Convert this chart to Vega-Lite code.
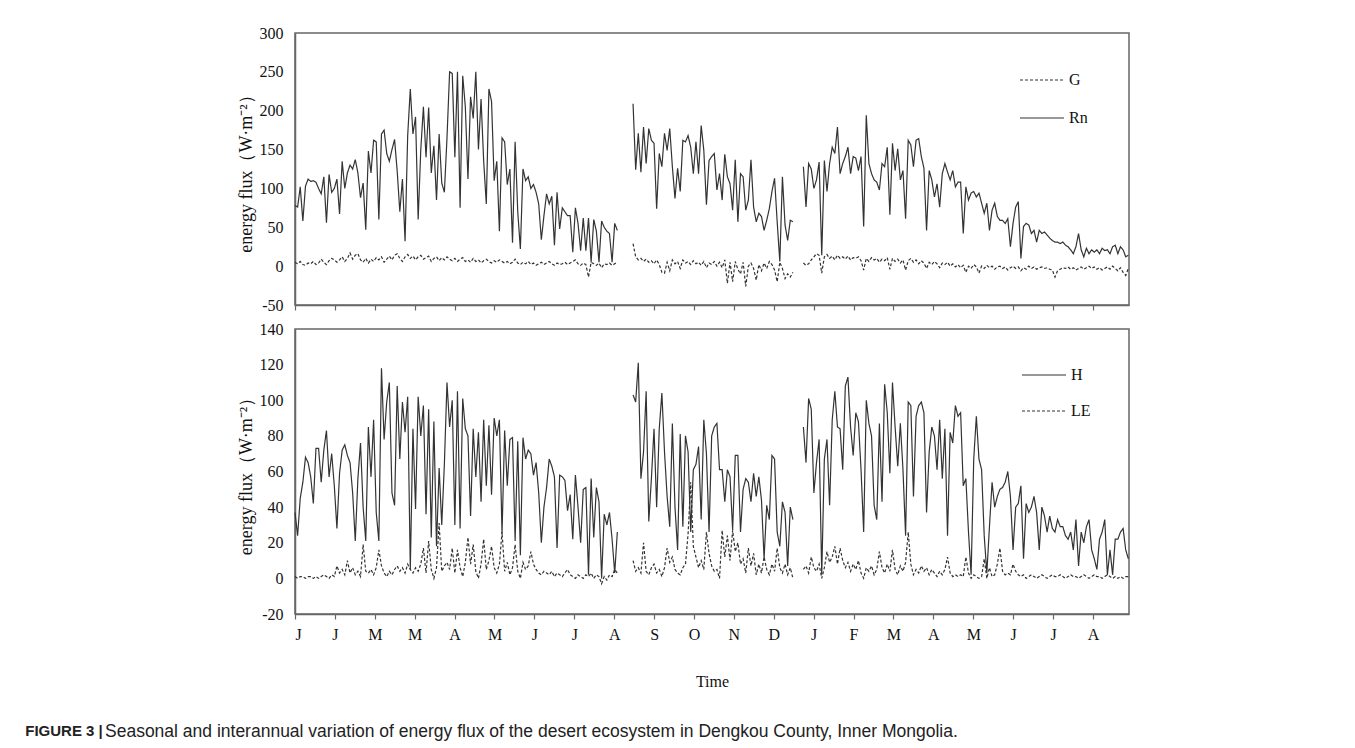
{
"$schema": "https://vega.github.io/schema/vega-lite/v6.json",
"background": "white",
"padding": {"left": 25, "top": 24, "right": 20, "bottom": 10},
"data": {"values": [
{"d":0,"Rn":78,"G":5,"H":37,"LE":1},{"d":2,"Rn":76,"G":3,"H":24,"LE":0},{"d":4,"Rn":102,"G":6,"H":45,"LE":1},{"d":6,"Rn":58,"G":2,"H":54,"LE":1},{"d":8,"Rn":103,"G":1,"H":68,"LE":0},{"d":10,"Rn":112,"G":4,"H":65,"LE":1},{"d":12,"Rn":109,"G":3,"H":57,"LE":1},{"d":14,"Rn":110,"G":6,"H":42,"LE":0},{"d":16,"Rn":108,"G":2,"H":73,"LE":1},{"d":18,"Rn":100,"G":4,"H":73,"LE":0},{"d":20,"Rn":93,"G":9,"H":54,"LE":1},{"d":22,"Rn":115,"G":5,"H":72,"LE":2},{"d":24,"Rn":56,"G":2,"H":83,"LE":1},{"d":26,"Rn":118,"G":7,"H":57,"LE":0},{"d":28,"Rn":95,"G":10,"H":70,"LE":2},{"d":30,"Rn":100,"G":8,"H":52,"LE":1},{"d":32,"Rn":112,"G":5,"H":28,"LE":7},{"d":34,"Rn":67,"G":8,"H":59,"LE":3},{"d":36,"Rn":135,"G":12,"H":72,"LE":5},{"d":38,"Rn":100,"G":6,"H":75,"LE":2},{"d":40,"Rn":120,"G":10,"H":69,"LE":10},{"d":42,"Rn":130,"G":17,"H":65,"LE":3},{"d":44,"Rn":125,"G":9,"H":48,"LE":6},{"d":46,"Rn":137,"G":14,"H":21,"LE":2},{"d":48,"Rn":120,"G":16,"H":56,"LE":4},{"d":50,"Rn":88,"G":8,"H":76,"LE":1},{"d":52,"Rn":107,"G":5,"H":40,"LE":19},{"d":54,"Rn":47,"G":10,"H":21,"LE":4},{"d":56,"Rn":148,"G":4,"H":85,"LE":3},{"d":58,"Rn":120,"G":9,"H":57,"LE":5},{"d":60,"Rn":162,"G":6,"H":89,"LE":2},{"d":62,"Rn":160,"G":11,"H":37,"LE":6},{"d":64,"Rn":60,"G":8,"H":21,"LE":16},{"d":66,"Rn":170,"G":12,"H":118,"LE":7},{"d":68,"Rn":175,"G":5,"H":78,"LE":3},{"d":70,"Rn":145,"G":9,"H":99,"LE":1},{"d":72,"Rn":135,"G":13,"H":110,"LE":4},{"d":74,"Rn":150,"G":8,"H":48,"LE":2},{"d":76,"Rn":163,"G":14,"H":41,"LE":5},{"d":78,"Rn":122,"G":16,"H":108,"LE":7},{"d":80,"Rn":70,"G":10,"H":67,"LE":4},{"d":82,"Rn":112,"G":6,"H":99,"LE":6},{"d":84,"Rn":32,"G":12,"H":82,"LE":3},{"d":86,"Rn":168,"G":15,"H":102,"LE":8},{"d":88,"Rn":228,"G":10,"H":5,"LE":5},{"d":90,"Rn":170,"G":13,"H":84,"LE":3},{"d":92,"Rn":192,"G":8,"H":39,"LE":6},{"d":94,"Rn":60,"G":12,"H":102,"LE":4},{"d":96,"Rn":150,"G":14,"H":80,"LE":8},{"d":98,"Rn":205,"G":9,"H":97,"LE":17},{"d":100,"Rn":140,"G":11,"H":36,"LE":3},{"d":102,"Rn":204,"G":13,"H":95,"LE":21},{"d":104,"Rn":120,"G":6,"H":23,"LE":5},{"d":106,"Rn":155,"G":10,"H":88,"LE":0},{"d":108,"Rn":85,"G":12,"H":18,"LE":6},{"d":110,"Rn":170,"G":7,"H":62,"LE":31},{"d":112,"Rn":107,"G":11,"H":30,"LE":4},{"d":114,"Rn":95,"G":8,"H":64,"LE":7},{"d":116,"Rn":165,"G":12,"H":110,"LE":9},{"d":118,"Rn":250,"G":9,"H":85,"LE":5},{"d":120,"Rn":248,"G":7,"H":100,"LE":17},{"d":122,"Rn":140,"G":10,"H":30,"LE":3},{"d":124,"Rn":250,"G":6,"H":105,"LE":16},{"d":126,"Rn":75,"G":9,"H":28,"LE":6},{"d":128,"Rn":245,"G":11,"H":101,"LE":1},{"d":130,"Rn":205,"G":6,"H":84,"LE":9},{"d":132,"Rn":112,"G":8,"H":80,"LE":23},{"d":134,"Rn":218,"G":5,"H":35,"LE":8},{"d":136,"Rn":190,"G":10,"H":84,"LE":19},{"d":138,"Rn":250,"G":6,"H":57,"LE":4},{"d":140,"Rn":150,"G":8,"H":82,"LE":0},{"d":142,"Rn":215,"G":4,"H":43,"LE":8},{"d":144,"Rn":135,"G":7,"H":89,"LE":22},{"d":146,"Rn":80,"G":9,"H":52,"LE":5},{"d":148,"Rn":228,"G":6,"H":86,"LE":10},{"d":150,"Rn":212,"G":4,"H":47,"LE":18},{"d":152,"Rn":110,"G":7,"H":90,"LE":6},{"d":154,"Rn":135,"G":5,"H":80,"LE":3},{"d":156,"Rn":45,"G":8,"H":89,"LE":8},{"d":158,"Rn":165,"G":6,"H":25,"LE":26},{"d":160,"Rn":160,"G":4,"H":83,"LE":4},{"d":162,"Rn":105,"G":6,"H":52,"LE":9},{"d":164,"Rn":125,"G":3,"H":78,"LE":2},{"d":166,"Rn":30,"G":5,"H":79,"LE":6},{"d":168,"Rn":160,"G":9,"H":21,"LE":19},{"d":170,"Rn":70,"G":4,"H":77,"LE":4},{"d":172,"Rn":22,"G":2,"H":13,"LE":0},{"d":174,"Rn":125,"G":5,"H":79,"LE":9},{"d":176,"Rn":110,"G":3,"H":67,"LE":5},{"d":178,"Rn":115,"G":6,"H":72,"LE":7},{"d":180,"Rn":100,"G":2,"H":70,"LE":15},{"d":182,"Rn":105,"G":4,"H":58,"LE":8},{"d":184,"Rn":95,"G":1,"H":65,"LE":5},{"d":186,"Rn":80,"G":3,"H":48,"LE":3},{"d":188,"Rn":34,"G":5,"H":20,"LE":2},{"d":190,"Rn":65,"G":2,"H":40,"LE":4},{"d":192,"Rn":93,"G":4,"H":51,"LE":3},{"d":194,"Rn":80,"G":6,"H":67,"LE":2},{"d":196,"Rn":90,"G":3,"H":63,"LE":4},{"d":198,"Rn":27,"G":1,"H":57,"LE":1},{"d":200,"Rn":95,"G":4,"H":17,"LE":3},{"d":202,"Rn":48,"G":2,"H":58,"LE":2},{"d":204,"Rn":75,"G":3,"H":57,"LE":1},{"d":206,"Rn":70,"G":5,"H":55,"LE":3},{"d":208,"Rn":65,"G":2,"H":38,"LE":5},{"d":210,"Rn":65,"G":4,"H":47,"LE":2},{"d":212,"Rn":18,"G":6,"H":22,"LE":1},{"d":214,"Rn":75,"G":8,"H":58,"LE":0},{"d":216,"Rn":55,"G":3,"H":40,"LE":2},{"d":218,"Rn":20,"G":1,"H":20,"LE":1},{"d":220,"Rn":62,"G":4,"H":50,"LE":0},{"d":222,"Rn":20,"G":2,"H":51,"LE":2},{"d":224,"Rn":62,"G":-14,"H":2,"LE":1},{"d":226,"Rn":5,"G":5,"H":56,"LE":3},{"d":228,"Rn":60,"G":3,"H":23,"LE":0},{"d":230,"Rn":45,"G":1,"H":51,"LE":2},{"d":232,"Rn":5,"G":4,"H":43,"LE":1},{"d":234,"Rn":58,"G":-2,"H":0,"LE":-3},{"d":236,"Rn":50,"G":3,"H":36,"LE":1},{"d":238,"Rn":45,"G":2,"H":30,"LE":-1},{"d":240,"Rn":42,"G":4,"H":37,"LE":2},{"d":242,"Rn":5,"G":1,"H":22,"LE":1},{"d":244,"Rn":55,"G":3,"H":3,"LE":5},{"d":246,"Rn":46,"G":5,"H":26,"LE":3},
{"d":252},
{"d":258,"Rn":209,"G":29,"H":103,"LE":10},{"d":260,"Rn":124,"G":12,"H":99,"LE":4},{"d":262,"Rn":171,"G":8,"H":121,"LE":6},{"d":264,"Rn":121,"G":10,"H":56,"LE":3},{"d":266,"Rn":179,"G":6,"H":71,"LE":20},{"d":268,"Rn":132,"G":9,"H":105,"LE":4},{"d":270,"Rn":177,"G":5,"H":32,"LE":2},{"d":272,"Rn":162,"G":7,"H":56,"LE":6},{"d":274,"Rn":158,"G":3,"H":84,"LE":8},{"d":276,"Rn":74,"G":8,"H":40,"LE":3},{"d":278,"Rn":145,"G":2,"H":84,"LE":5},{"d":280,"Rn":128,"G":-8,"H":104,"LE":1},{"d":282,"Rn":171,"G":-9,"H":71,"LE":6},{"d":284,"Rn":149,"G":5,"H":46,"LE":17},{"d":286,"Rn":177,"G":-6,"H":29,"LE":9},{"d":288,"Rn":128,"G":8,"H":87,"LE":12},{"d":290,"Rn":87,"G":3,"H":40,"LE":5},{"d":292,"Rn":126,"G":6,"H":16,"LE":3},{"d":294,"Rn":96,"G":-3,"H":81,"LE":2},{"d":296,"Rn":162,"G":8,"H":29,"LE":6},{"d":298,"Rn":160,"G":4,"H":80,"LE":8},{"d":300,"Rn":168,"G":6,"H":71,"LE":25},{"d":302,"Rn":153,"G":2,"H":26,"LE":54},{"d":304,"Rn":119,"G":7,"H":61,"LE":18},{"d":306,"Rn":160,"G":3,"H":64,"LE":12},{"d":308,"Rn":119,"G":5,"H":74,"LE":6},{"d":310,"Rn":181,"G":1,"H":33,"LE":10},{"d":312,"Rn":149,"G":6,"H":89,"LE":5},{"d":314,"Rn":79,"G":-2,"H":70,"LE":26},{"d":316,"Rn":136,"G":4,"H":26,"LE":14},{"d":318,"Rn":141,"G":2,"H":80,"LE":7},{"d":320,"Rn":145,"G":6,"H":85,"LE":4},{"d":322,"Rn":98,"G":0,"H":87,"LE":5},{"d":324,"Rn":119,"G":5,"H":61,"LE":0},{"d":326,"Rn":85,"G":-2,"H":61,"LE":27},{"d":328,"Rn":144,"G":8,"H":43,"LE":12},{"d":330,"Rn":115,"G":-22,"H":61,"LE":24},{"d":332,"Rn":106,"G":5,"H":57,"LE":10},{"d":334,"Rn":72,"G":-20,"H":27,"LE":27},{"d":336,"Rn":137,"G":6,"H":69,"LE":15},{"d":338,"Rn":57,"G":-4,"H":69,"LE":20},{"d":340,"Rn":119,"G":-10,"H":26,"LE":8},{"d":342,"Rn":115,"G":5,"H":50,"LE":11},{"d":344,"Rn":72,"G":-26,"H":56,"LE":3},{"d":346,"Rn":85,"G":0,"H":54,"LE":17},{"d":348,"Rn":137,"G":4,"H":43,"LE":7},{"d":350,"Rn":76,"G":-3,"H":59,"LE":14},{"d":352,"Rn":57,"G":-18,"H":46,"LE":2},{"d":354,"Rn":68,"G":2,"H":57,"LE":8},{"d":356,"Rn":64,"G":-6,"H":44,"LE":3},{"d":358,"Rn":46,"G":4,"H":11,"LE":12},{"d":360,"Rn":59,"G":-3,"H":41,"LE":5},{"d":362,"Rn":74,"G":6,"H":33,"LE":2},{"d":364,"Rn":96,"G":2,"H":69,"LE":8},{"d":366,"Rn":113,"G":-5,"H":67,"LE":4},{"d":368,"Rn":57,"G":-20,"H":26,"LE":17},{"d":370,"Rn":6,"G":5,"H":18,"LE":6},{"d":372,"Rn":115,"G":-3,"H":43,"LE":3},{"d":374,"Rn":53,"G":-16,"H":37,"LE":8},{"d":376,"Rn":33,"G":-10,"H":7,"LE":2},{"d":378,"Rn":59,"G":-14,"H":40,"LE":6},{"d":380,"Rn":57,"G":-8,"H":33,"LE":0},
{"d":384},
{"d":388,"Rn":128,"G":4,"H":85,"LE":5},{"d":390,"Rn":76,"G":1,"H":65,"LE":7},{"d":392,"Rn":132,"G":3,"H":101,"LE":3},{"d":394,"Rn":125,"G":8,"H":95,"LE":12},{"d":396,"Rn":100,"G":12,"H":48,"LE":6},{"d":398,"Rn":111,"G":16,"H":65,"LE":4},{"d":400,"Rn":134,"G":14,"H":78,"LE":8},{"d":402,"Rn":14,"G":-9,"H":2,"LE":0},{"d":404,"Rn":136,"G":12,"H":67,"LE":6},{"d":406,"Rn":96,"G":15,"H":78,"LE":15},{"d":408,"Rn":132,"G":10,"H":41,"LE":9},{"d":410,"Rn":153,"G":13,"H":89,"LE":12},{"d":412,"Rn":145,"G":8,"H":105,"LE":18},{"d":414,"Rn":179,"G":14,"H":85,"LE":8},{"d":416,"Rn":119,"G":10,"H":84,"LE":17},{"d":418,"Rn":132,"G":12,"H":61,"LE":10},{"d":420,"Rn":141,"G":9,"H":108,"LE":6},{"d":422,"Rn":153,"G":13,"H":113,"LE":9},{"d":424,"Rn":119,"G":8,"H":85,"LE":4},{"d":426,"Rn":141,"G":11,"H":69,"LE":8},{"d":428,"Rn":139,"G":10,"H":93,"LE":5},{"d":430,"Rn":123,"G":12,"H":88,"LE":10},{"d":432,"Rn":141,"G":7,"H":61,"LE":3},{"d":434,"Rn":51,"G":-5,"H":26,"LE":0},{"d":436,"Rn":194,"G":10,"H":100,"LE":6},{"d":438,"Rn":132,"G":6,"H":87,"LE":4},{"d":440,"Rn":119,"G":11,"H":80,"LE":7},{"d":442,"Rn":111,"G":8,"H":41,"LE":2},{"d":444,"Rn":108,"G":10,"H":33,"LE":5},{"d":446,"Rn":98,"G":5,"H":87,"LE":15},{"d":448,"Rn":132,"G":9,"H":43,"LE":6},{"d":450,"Rn":128,"G":7,"H":109,"LE":3},{"d":452,"Rn":153,"G":11,"H":93,"LE":8},{"d":454,"Rn":66,"G":-4,"H":59,"LE":4},{"d":456,"Rn":158,"G":10,"H":110,"LE":16},{"d":458,"Rn":123,"G":6,"H":85,"LE":5},{"d":460,"Rn":151,"G":9,"H":63,"LE":2},{"d":462,"Rn":111,"G":4,"H":87,"LE":7},{"d":464,"Rn":123,"G":8,"H":61,"LE":4},{"d":466,"Rn":61,"G":-5,"H":24,"LE":9},{"d":468,"Rn":162,"G":7,"H":99,"LE":26},{"d":470,"Rn":156,"G":10,"H":97,"LE":8},{"d":472,"Rn":128,"G":5,"H":46,"LE":2},{"d":474,"Rn":162,"G":8,"H":91,"LE":5},{"d":476,"Rn":164,"G":3,"H":97,"LE":3},{"d":478,"Rn":141,"G":7,"H":99,"LE":7},{"d":480,"Rn":126,"G":4,"H":93,"LE":4},{"d":482,"Rn":46,"G":-3,"H":37,"LE":6},{"d":484,"Rn":123,"G":5,"H":71,"LE":2},{"d":486,"Rn":111,"G":2,"H":85,"LE":5},{"d":488,"Rn":89,"G":6,"H":80,"LE":3},{"d":490,"Rn":106,"G":3,"H":61,"LE":1},{"d":492,"Rn":76,"G":-2,"H":89,"LE":4},{"d":494,"Rn":119,"G":4,"H":56,"LE":2},{"d":496,"Rn":132,"G":2,"H":84,"LE":5},{"d":498,"Rn":121,"G":5,"H":24,"LE":12},{"d":500,"Rn":111,"G":0,"H":82,"LE":3},{"d":502,"Rn":123,"G":3,"H":76,"LE":1},{"d":504,"Rn":102,"G":-1,"H":97,"LE":2},{"d":506,"Rn":108,"G":2,"H":91,"LE":1},{"d":508,"Rn":108,"G":-2,"H":93,"LE":2},{"d":510,"Rn":42,"G":1,"H":52,"LE":1},{"d":512,"Rn":102,"G":-8,"H":56,"LE":12},{"d":514,"Rn":85,"G":0,"H":26,"LE":3},{"d":516,"Rn":94,"G":-3,"H":2,"LE":0},{"d":518,"Rn":96,"G":2,"H":67,"LE":2},{"d":520,"Rn":89,"G":-1,"H":91,"LE":1},{"d":522,"Rn":94,"G":-9,"H":67,"LE":0},{"d":524,"Rn":81,"G":0,"H":61,"LE":1},{"d":526,"Rn":68,"G":-3,"H":24,"LE":11},{"d":528,"Rn":81,"G":1,"H":3,"LE":0},{"d":530,"Rn":46,"G":-2,"H":29,"LE":6},{"d":532,"Rn":72,"G":0,"H":54,"LE":1},{"d":534,"Rn":81,"G":-4,"H":40,"LE":2},{"d":536,"Rn":64,"G":-1,"H":46,"LE":8},{"d":538,"Rn":59,"G":0,"H":50,"LE":17},{"d":540,"Rn":59,"G":-3,"H":51,"LE":4},{"d":542,"Rn":55,"G":-1,"H":54,"LE":2},{"d":544,"Rn":61,"G":-5,"H":60,"LE":3},{"d":546,"Rn":25,"G":-2,"H":46,"LE":2},{"d":548,"Rn":55,"G":0,"H":16,"LE":8},{"d":550,"Rn":76,"G":-3,"H":40,"LE":4},{"d":552,"Rn":83,"G":-1,"H":42,"LE":2},{"d":554,"Rn":10,"G":-6,"H":52,"LE":1},{"d":556,"Rn":51,"G":-2,"H":11,"LE":2},{"d":558,"Rn":55,"G":-4,"H":42,"LE":0},{"d":560,"Rn":53,"G":0,"H":37,"LE":1},{"d":562,"Rn":42,"G":-3,"H":40,"LE":2},{"d":564,"Rn":46,"G":-1,"H":46,"LE":1},{"d":566,"Rn":31,"G":-4,"H":37,"LE":0},{"d":568,"Rn":46,"G":-2,"H":16,"LE":1},{"d":570,"Rn":42,"G":-1,"H":40,"LE":2},{"d":572,"Rn":44,"G":-3,"H":35,"LE":1},{"d":574,"Rn":40,"G":-2,"H":26,"LE":0},{"d":576,"Rn":36,"G":-4,"H":35,"LE":1},{"d":578,"Rn":33,"G":-5,"H":28,"LE":2},{"d":580,"Rn":31,"G":-14,"H":26,"LE":1},{"d":582,"Rn":31,"G":-6,"H":33,"LE":1},{"d":584,"Rn":29,"G":-4,"H":29,"LE":2},{"d":586,"Rn":31,"G":-2,"H":29,"LE":1},{"d":588,"Rn":27,"G":-3,"H":24,"LE":0},{"d":590,"Rn":25,"G":-1,"H":22,"LE":1},{"d":592,"Rn":21,"G":-4,"H":26,"LE":2},{"d":594,"Rn":16,"G":-2,"H":16,"LE":1},{"d":596,"Rn":25,"G":-5,"H":33,"LE":1},{"d":598,"Rn":42,"G":-3,"H":7,"LE":0},{"d":600,"Rn":21,"G":-1,"H":26,"LE":1},{"d":602,"Rn":12,"G":-4,"H":20,"LE":2},{"d":604,"Rn":23,"G":-2,"H":29,"LE":1},{"d":606,"Rn":16,"G":0,"H":33,"LE":0},{"d":608,"Rn":21,"G":-3,"H":16,"LE":1},{"d":610,"Rn":18,"G":-1,"H":11,"LE":2},{"d":612,"Rn":21,"G":-4,"H":5,"LE":1},{"d":614,"Rn":16,"G":-2,"H":22,"LE":1},{"d":616,"Rn":23,"G":-5,"H":26,"LE":0},{"d":618,"Rn":20,"G":-3,"H":33,"LE":1},{"d":620,"Rn":21,"G":-1,"H":2,"LE":2},{"d":622,"Rn":16,"G":-4,"H":16,"LE":1},{"d":624,"Rn":25,"G":0,"H":2,"LE":0},{"d":626,"Rn":27,"G":-3,"H":22,"LE":1},{"d":628,"Rn":16,"G":-6,"H":22,"LE":0},{"d":630,"Rn":25,"G":-2,"H":26,"LE":1},{"d":632,"Rn":21,"G":-8,"H":28,"LE":0},{"d":634,"Rn":12,"G":-12,"H":16,"LE":1},{"d":636,"Rn":14,"G":-3,"H":11,"LE":1}
]},
"title": {"text": "FIGURE 3 |", "orient": "bottom", "anchor": "start", "frame": "bounds", "font": "Liberation Sans", "fontSize": 15, "fontWeight": "bold", "color": "#222", "dx": -79, "dy": -17, "offset": 0},
"spacing": 24,
"bounds": "flush",
"vconcat": [
{
"width": 834, "height": 272,
"transform": [{"fold": ["G", "Rn"], "as": ["series", "value"]}],
"mark": {"type": "line", "color": "#333", "strokeWidth": 1.2},
"encoding": {
"x": {"field": "d", "type": "quantitative", "scale": {"domain": [0, 636.5], "nice": false, "zero": false},
"axis": {"values": [0,30.45,60.9,91.35,121.8,152.25,182.7,213.15,243.6,274.05,304.5,334.95,365.4,395.85,426.3,456.75,487.2,517.65,548.1,578.55,609], "labels": false, "title": null, "tickSize": 5}},
"y": {"field": "value", "type": "quantitative", "scale": {"domain": [-50, 300], "nice": false, "zero": false},
"axis": {"values": [-50,0,50,100,150,200,250,300], "labelExpr": "toString(datum.value)", "title": "energy flux（W·m⁻²）", "ticks": false, "tickSize": 0, "labelPadding": 12, "titlePadding": 4}},
"strokeDash": {"field": "series", "type": "nominal", "scale": {"domain": ["G", "Rn"], "range": [[3, 2], [1, 0]]},
"legend": {"title": null, "orient": "none", "legendX": 724, "legendY": 24, "rowPadding": 7}}
}
},
{
"width": 834, "height": 285,
"title": {"text": "Seasonal and interannual variation of energy flux of the desert ecosystem in Dengkou County, Inner Mongolia.", "orient": "bottom", "anchor": "start", "frame": "group", "font": "Liberation Sans", "fontSize": 17.5, "fontWeight": "normal", "color": "#222", "dx": -190, "offset": 34},
"transform": [{"fold": ["H", "LE"], "as": ["series", "value"]}],
"mark": {"type": "line", "color": "#333", "strokeWidth": 1.2},
"encoding": {
"x": {"field": "d", "type": "quantitative", "scale": {"domain": [0, 636.5], "nice": false, "zero": false},
"axis": {"values": [0,30.45,60.9,91.35,121.8,152.25,182.7,213.15,243.6,274.05,304.5,334.95,365.4,395.85,426.3,456.75,487.2,517.65,548.1,578.55,609], "labelExpr": "['J','J','M','M','A','M','J','J','A','S','O','N','D','J','F','M','A','M','J','J','A'][round(datum.value/30.45)]", "labelFontSize": 16, "title": "Time", "titleFontSize": 16, "tickSize": 5, "labelPadding": 7, "titlePadding": 31}},
"y": {"field": "value", "type": "quantitative", "scale": {"domain": [-20, 140], "nice": false, "zero": false},
"axis": {"values": [-20,0,20,40,60,80,100,120,140], "labelExpr": "toString(datum.value)", "title": "energy flux（W·m⁻²）", "ticks": false, "tickSize": 0, "labelPadding": 12, "titlePadding": 4}},
"strokeDash": {"field": "series", "type": "nominal", "scale": {"domain": ["H", "LE"], "range": [[1, 0], [3, 2]]},
"legend": {"title": null, "orient": "none", "legendX": 726, "legendY": 23, "rowPadding": 5}}
}
}
],
"resolve": {"scale": {"strokeDash": "independent"}, "legend": {"strokeDash": "independent"}},
"config": {
"view": {"stroke": "#666", "strokeWidth": 1.5},
"axis": {"domainColor": "#666", "domainWidth": 1.5, "tickColor": "#666", "tickWidth": 1.2, "labelFont": "Liberation Serif", "labelFontSize": 16, "labelColor": "#111", "titleFont": "Liberation Serif", "titleFontSize": 18, "titleFontWeight": "normal", "titleColor": "#111", "grid": false},
"legend": {"symbolType": "stroke", "symbolSize": 1936, "symbolStrokeWidth": 1.2, "symbolStrokeColor": "#333", "labelFont": "Liberation Serif", "labelFontSize": 16, "labelColor": "#111", "labelOffset": 4}
}
}
